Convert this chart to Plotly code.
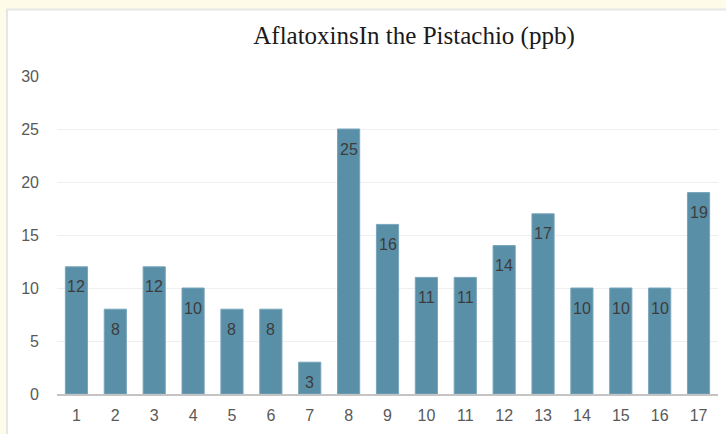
import plotly.graph_objects as go

categories = [str(i) for i in range(1, 18)]
values = [12, 8, 12, 10, 8, 8, 3, 25, 16, 11, 11, 14, 17, 10, 10, 10, 19]
y_ticks = [0, 5, 10, 15, 20, 25, 30]
title_text = "AflatoxinsIn the Pistachio (ppb)"

W, H = 726, 434
L, R, T, B = 57, 8, 76, 40
pw, ph = W - L - R, H - T - B

def px_x(p):
    return (p - L) / pw

def px_y(p):
    return (H - B - p) / ph

sans = "Liberation Sans, Arial, sans-serif"

fig = go.Figure(go.Bar(
    x=categories, y=values,
    marker=dict(color="rgb(90,143,168)", line=dict(color="rgb(120,165,188)", width=1)),
    width=0.57,
))

# category axis: numeric annotation x is the category index
for idx, v in enumerate(values):
    fig.add_annotation(x=idx, y=v, text=str(v), showarrow=False, yanchor="middle", yshift=-20,
                       font=dict(family=sans, size=16, color="#3c3c3c"))

fig.update_layout(
    width=W, height=H,
    margin=dict(l=L, r=R, t=T, b=B),
    paper_bgcolor="#FFFBE9",
    plot_bgcolor="white",
    showlegend=False,
    title=dict(text=title_text, xref="container", x=414 / W, xanchor="center",
               y=1 - 35 / H, yanchor="middle",
               font=dict(family="Liberation Serif, Times New Roman, serif", size=25, color="#1a1a1a")),
    xaxis=dict(type="category", range=[-0.5, len(categories) - 0.5],
               showgrid=False, showline=True, linecolor="#c4c4c4", linewidth=1.5,
               ticks="", tickfont=dict(family=sans, size=16, color="#595959"),
               ticklabelstandoff=6),
    yaxis=dict(range=[0, 30], tickvals=y_ticks, showgrid=True, gridcolor="#efefef", gridwidth=1,
               zeroline=False, showline=False, ticks="",
               tickfont=dict(family=sans, size=16, color="#595959"),
               ticklabelstandoff=17),
    shapes=[dict(type="rect", xref="paper", yref="paper", layer="below",
                 x0=px_x(7), x1=px_x(760), y0=px_y(460), y1=px_y(9.5),
                 fillcolor="white", line=dict(color="#e6e6e6", width=2))],
)

fig.write_html("out.html")
